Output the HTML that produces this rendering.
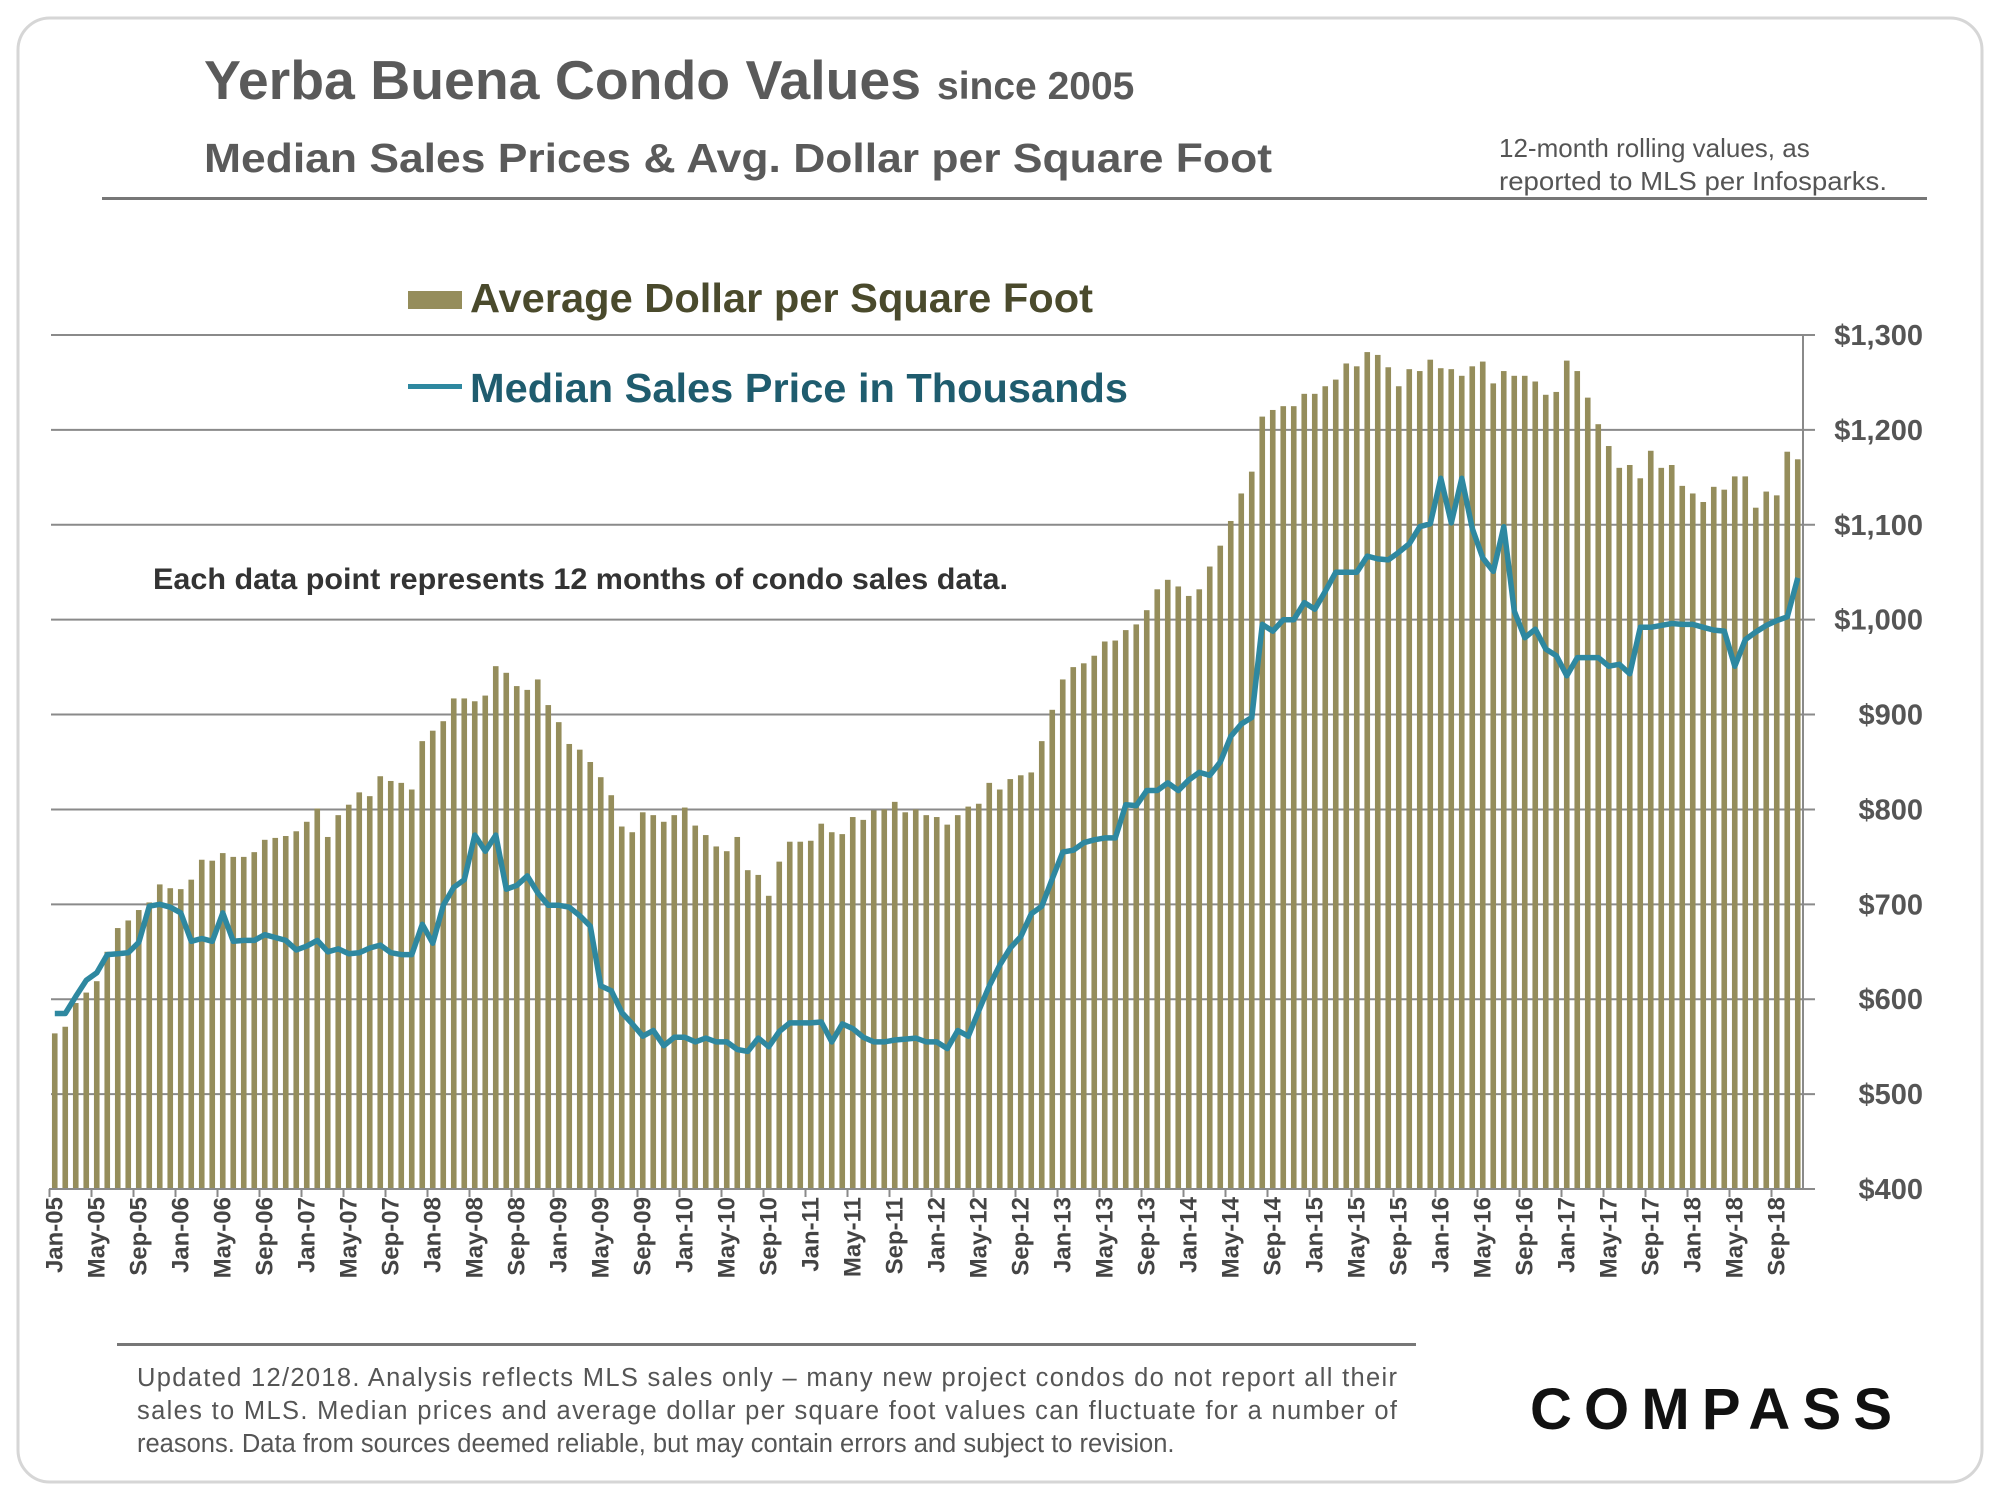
<!DOCTYPE html>
<html><head><meta charset="utf-8"><style>
html,body{margin:0;padding:0;background:#fff;}
svg{display:block;font-family:"Liberation Sans",Arial,sans-serif;}
</style></head><body>
<svg id="chart" width="2000" height="1500" viewBox="0 0 2000 1500">
<rect x="18" y="18" width="1964" height="1464" rx="32" fill="#fff" stroke="#d6d6d6" stroke-width="3"/>
<text x="204" y="99" font-size="55" font-weight="bold" fill="#5a5a5a"><tspan textLength="717" lengthAdjust="spacingAndGlyphs">Yerba Buena Condo Values</tspan><tspan font-size="39" dx="16">since 2005</tspan></text>
<text x="204" y="172" font-size="41" font-weight="bold" fill="#5a5a5a" textLength="1068" lengthAdjust="spacingAndGlyphs">Median Sales Prices &amp; Avg. Dollar per Square Foot</text>
<text x="1499" y="157" font-size="26" fill="#555">12-month rolling values, as</text>
<text x="1499" y="190" font-size="26" fill="#555" textLength="388" lengthAdjust="spacingAndGlyphs">reported to MLS per Infosparks.</text>
<rect x="102" y="197" width="1825" height="3" fill="#777"/>
<rect x="408" y="291" width="54" height="18" fill="#958d5b"/>
<text x="470" y="312" font-size="41" font-weight="bold" fill="#4a4a2c" textLength="623" lengthAdjust="spacingAndGlyphs">Average Dollar per Square Foot</text>
<rect x="408" y="384" width="54" height="5" fill="#2e88a0"/>
<text x="470" y="402" font-size="41" font-weight="bold" fill="#1f5c6e" textLength="658" lengthAdjust="spacingAndGlyphs">Median Sales Price in Thousands</text>
<text x="153" y="589" font-size="30" font-weight="bold" fill="#333" textLength="855" lengthAdjust="spacingAndGlyphs">Each data point represents 12 months of condo sales data.</text>
<g id="grid"></g><g id="bars"></g><g id="line"></g><g id="axes"></g>
<rect x="117" y="1343" width="1299" height="3" fill="#777"/>
<text x="137" y="1386" font-size="25.5" fill="#555" textLength="1260" lengthAdjust="spacing">Updated 12/2018. Analysis reflects MLS sales only – many new project condos do not report all their</text>
<text x="137" y="1419" font-size="25.5" fill="#555" textLength="1260" lengthAdjust="spacing">sales to MLS. Median prices and average dollar per square foot values can fluctuate for a number of</text>
<text x="137" y="1452" font-size="25.5" fill="#555">reasons. Data from sources deemed reliable, but may contain errors and subject to revision.</text>
<text x="1530" y="1429" font-size="58" font-weight="bold" fill="#111" textLength="362" lengthAdjust="spacing">COMPASS</text>
</svg>
<script>
const dollarPerSqft = [564,571,596,607,619,650,675,683,694,702,721,717,716,726,747,746,754,750,750,755,768,770,772,777,787,801,771,794,805,818,814,835,830,828,821,872,883,893,917,917,914,920,951,944,930,
926,937,910,892,869,863,850,834,815,782,776,797,794,787,794,802,783,773,761,756,771,736,731,709,745,766,766,767,785,776,774,792,789,799,800,808,797,800,794,792,784,794,803,806,
828,821,832,836,839,872,905,937,950,954,962,977,978,989,995,1010,1032,1042,1035,1025,1032,1056,1078,1104,1133,1156,1214,1221,1225,1225,1238,1238,1246,1253,1270,1267,1282,1279,1266,1246,
1264,1262,1274,1265,1264,1257,1267,1272,1249,1262,1257,1257,1251,1237,1240,1273,1262,1234,1206,1183,1160,1163,1149,1178,1160,1163,1141,1133,1124,1140,1137,1151,1151,1118,1135,1131,1177,1169];
const medianPrice = [585,585,603,620,628,647,648,649,660,698,700,697,691,661,664,661,691,661,662,662,668,665,662,652,656,662,650,653,648,649,654,657,649,647,647,679,659,699,718,726,773,756,773,716,720,
730,712,699,699,697,688,677,614,609,586,574,561,567,551,560,560,555,559,555,555,547,545,559,550,566,575,575,575,576,555,574,569,560,555,555,557,558,559,555,555,548,567,561,588,
614,636,654,666,690,698,727,755,757,765,768,770,770,805,804,820,820,828,820,831,839,836,850,877,890,897,995,988,1000,1000,1018,1011,1030,1050,1050,1050,1067,1064,1063,1071,
1080,1098,1101,1149,1102,1149,1096,1065,1051,1098,1009,981,990,969,962,941,960,960,960,951,953,943,992,992,994,996,995,995,992,989,988,951,979,987,994,999,1003,1044];
const yTicks = [400,500,600,700,800,900,1000,1100,1200,1300];
const yTickLabels = ["$400","$500","$600","$700","$800","$900","$1,000","$1,100","$1,200","$1,300"];
const xTickLabels = ["Jan-05","May-05","Sep-05","Jan-06","May-06","Sep-06","Jan-07","May-07","Sep-07","Jan-08","May-08","Sep-08","Jan-09","May-09","Sep-09","Jan-10","May-10","Sep-10","Jan-11","May-11","Sep-11","Jan-12","May-12","Sep-12","Jan-13","May-13","Sep-13","Jan-14","May-14","Sep-14","Jan-15","May-15","Sep-15","Jan-16","May-16","Sep-16","Jan-17","May-17","Sep-17","Jan-18","May-18","Sep-18"];

const NS="http://www.w3.org/2000/svg";
const X0=49.5, X1=1803, Y0=1189, Y1=335, VMIN=400, VMAX=1300;
const n=dollarPerSqft.length;
const step=(X1-X0)/n;
const xBand=i=>X0+i*step;
const xC=i=>X0+(i+0.5)*step;
const y=v=>Y0-(v-VMIN)/(VMAX-VMIN)*(Y0-Y1);
function mk(tag,attrs,parent){const e=document.createElementNS(NS,tag);for(const k in attrs)e.setAttribute(k,attrs[k]);parent.appendChild(e);return e;}
const grid=document.getElementById('grid'),bars=document.getElementById('bars'),line=document.getElementById('line'),axes=document.getElementById('axes');
yTicks.forEach((v,i)=>{
  const g=mk('line',{x1:51,x2:X1+12,y1:y(v),y2:y(v),stroke:'#8a8a8a','stroke-width':2},grid);
  
  
  const t=mk('text',{x:1923,y:y(v)+10,'text-anchor':'end','font-size':29,'font-weight':'bold',fill:'#555'},axes);
  t.textContent=yTickLabels[i];
  
  
});
dollarPerSqft.forEach((v,i)=>{
  const r=mk('rect',{x:xC(i)-2.8,y:y(v),width:5.6,height:Y0-y(v),fill:'#958d5b'},bars);
  
  
});
const pts=medianPrice.map((v,i)=>xC(i).toFixed(1)+','+y(v).toFixed(1)).join(' ');
const pl=mk('polyline',{points:pts,fill:'none',stroke:'#2e88a0','stroke-width':5.5,'stroke-linejoin':'round'},line);


const ya=mk('line',{x1:X1,x2:X1,y1:Y1,y2:Y0,stroke:'#8a8a8a','stroke-width':2},axes);


const xa=mk('line',{x1:49,x2:X1,y1:Y0,y2:Y0,stroke:'#8a8a8a','stroke-width':2},axes);


xTickLabels.forEach((lab,k)=>{
  const tx=xBand(k*4);
  const tk=mk('line',{x1:tx,x2:tx,y1:Y0,y2:Y0+8,stroke:'#8a8a8a','stroke-width':2},axes);
  
  
  const t=mk('text',{x:0,y:0,'text-anchor':'end','font-size':24,'font-weight':'bold',fill:'#444',transform:`translate(${tx+13},${Y0+8}) rotate(-90)`},axes);
  t.textContent=lab;
  
  
});
</script>
</body></html>
